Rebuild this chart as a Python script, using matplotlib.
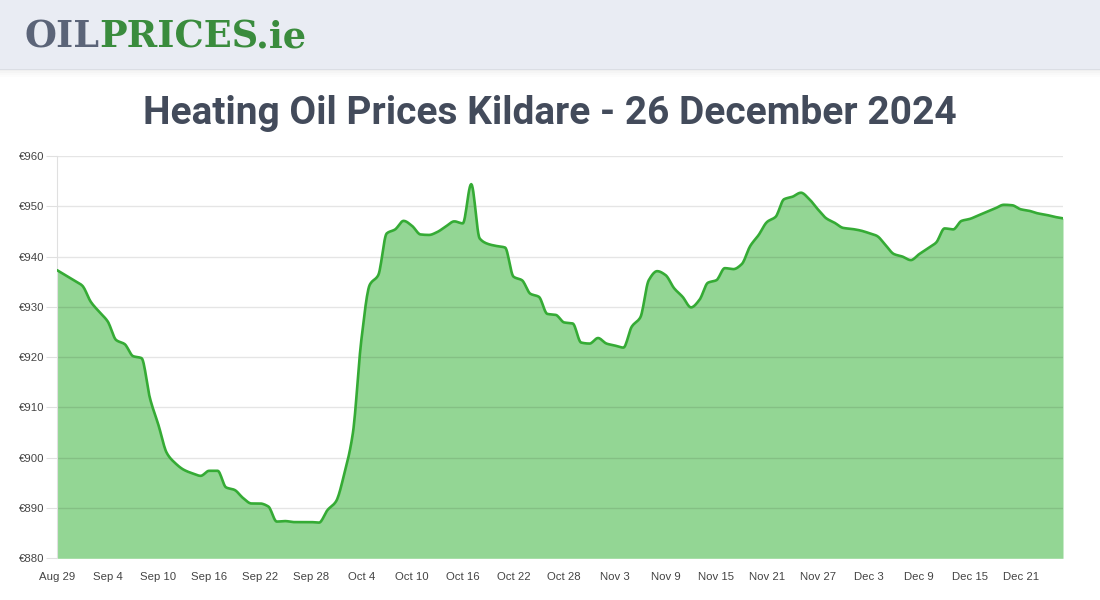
import numpy as np
import matplotlib
matplotlib.use("Agg")
import matplotlib.pyplot as plt
from matplotlib.patches import Rectangle

# ---------------- data ----------------
prices = [
    937.3, 936.3, 935.3, 934.2, 931.0, 929.0, 927.1, 923.4, 922.6, 920.2,
    919.8, 911.8, 906.5, 900.9, 898.9, 897.6, 896.9, 896.4, 897.4, 897.4,
    894.1, 893.6, 892.0, 890.9, 890.9, 890.3, 887.3, 887.4, 887.2, 887.2,
    887.2, 887.1, 889.6, 891.3, 896.9, 904.9, 923.4, 934.4, 936.3, 944.6,
    945.4, 947.1, 946.1, 944.4, 944.3, 944.9, 946.0, 947.0, 946.6, 954.4,
    943.6, 942.5, 942.1, 941.8, 936.0, 935.3, 932.6, 932.0, 928.6, 928.4,
    926.9, 926.7, 922.9, 922.7, 923.8, 922.7, 922.3, 921.9, 926.1, 927.9,
    935.3, 937.1, 936.3, 933.7, 932.0, 929.9, 931.4, 934.8, 935.3, 937.7,
    937.5, 938.5, 942.1, 944.3, 946.9, 947.9, 951.4, 951.9, 952.7, 951.4,
    949.4, 947.6, 946.7, 945.7, 945.5, 945.2, 944.7, 944.1, 942.3, 940.5,
    940.0, 939.3, 940.5, 941.6, 942.8, 945.6, 945.4, 947.1, 947.5, 948.2,
    948.9, 949.6, 950.3, 950.2, 949.4, 949.1, 948.6, 948.3, 947.9, 947.6,
]
tick_labels = ["Aug 29", "Sep 4", "Sep 10", "Sep 16", "Sep 22", "Sep 28",
               "Oct 4", "Oct 10", "Oct 16", "Oct 22", "Oct 28", "Nov 3",
               "Nov 9", "Nov 15", "Nov 21", "Nov 27", "Dec 3", "Dec 9",
               "Dec 15", "Dec 21"]
y_ticks = [880, 890, 900, 910, 920, 930, 940, 950, 960]
title = "Heating Oil Prices Kildare - 26 December 2024"


def monotone_smooth(x, y, n=12):
    x = np.asarray(x, float)
    y = np.asarray(y, float)
    h = np.diff(x)
    d = np.diff(y) / h
    m = np.zeros_like(y)
    m[0], m[-1] = d[0], d[-1]
    for k in range(1, len(y) - 1):
        if d[k - 1] * d[k] <= 0:
            m[k] = 0
        else:
            w1 = 2 * h[k] + h[k - 1]
            w2 = h[k] + 2 * h[k - 1]
            m[k] = (w1 + w2) / (w1 / d[k - 1] + w2 / d[k])
    xs, ys = [], []
    for k in range(len(y) - 1):
        t = np.linspace(0, 1, n, endpoint=False)
        h00 = 2 * t**3 - 3 * t**2 + 1
        h10 = t**3 - 2 * t**2 + t
        h01 = -2 * t**3 + 3 * t**2
        h11 = t**3 - t**2
        xs.append(x[k] + t * h[k])
        ys.append(h00 * y[k] + h10 * h[k] * m[k] + h01 * y[k + 1] + h11 * h[k] * m[k + 1])
    xs.append([x[-1]])
    ys.append([y[-1]])
    return np.concatenate(xs), np.concatenate(ys)


days = np.arange(len(prices))
sx, sy = monotone_smooth(days, prices)

fig = plt.figure(figsize=(11, 6), dpi=100)
fig.patch.set_facecolor("white")

# header band with soft shadow
fig.patches.append(Rectangle((0, 1 - 70 / 600), 1, 70 / 600, transform=fig.transFigure,
                             facecolor="#e9ecf3", edgecolor="none", zorder=0))
for k, a in enumerate([0.06, 0.04, 0.025, 0.012]):
    fig.patches.append(Rectangle((0, 1 - (71 + k * 2) / 600), 1, 2 / 600,
                                 transform=fig.transFigure, facecolor=(0, 0, 0, a),
                                 edgecolor="none", zorder=0))

# logo
renderer = fig.canvas.get_renderer()
lx = 25 / 1100
ly = 1 - 38 / 600
logo_parts = [("OIL", "#5b6478"), ("PRICES", "#3a8c3d"), (".ie", "#3a8c3d")]
for txt, col in logo_parts:
    t = fig.text(lx, ly, txt, fontsize=26.5, fontweight="heavy", family="DejaVu Serif",
                 color=col, va="center", ha="left")
    bb = t.get_window_extent(renderer=renderer)
    lx += bb.width / 1100 * 0.985

# title
fig.text(0.5, 1 - 113 / 600, title, ha="center", va="center", fontsize=28,
         fontweight="bold", color="#434b5b",
         family=["Roboto", "DejaVu Sans"])

ax = fig.add_axes([57 / 1100, 41.7 / 600, 1006 / 1100, 402.3 / 600])
ax.fill_between(sx, 880, sy, color="#93d694", lw=0, zorder=1)
ax.plot(sx, sy, color="#35ab35", lw=1.9, zorder=3, solid_capstyle="round")

ax.set_xlim(0, len(prices) - 1)
ax.set_ylim(880, 960)
ax.set_yticks(y_ticks)
ax.set_yticklabels(["€%d" % v for v in y_ticks])
ax.set_xticks(np.arange(0, len(tick_labels) * 6, 6))
ax.set_xticklabels(tick_labels)
for v in y_ticks[1:]:
    ax.axhline(v, color=(0, 0, 0, 0.1), lw=1, zorder=2)
for s in ["top", "right", "bottom"]:
    ax.spines[s].set_visible(False)
ax.spines["left"].set_color("#e0e0e0")
ax.tick_params(axis="y", length=8, color="#e0e0e0", labelsize=8.2, labelcolor="#444444", pad=1)
ax.tick_params(axis="x", length=0, labelsize=8.2, labelcolor="#444444", pad=10)
for lab in ax.get_xticklabels() + ax.get_yticklabels():
    lab.set_family(["Liberation Sans", "DejaVu Sans"])

fig.savefig("out.png", dpi=100, facecolor="white")
